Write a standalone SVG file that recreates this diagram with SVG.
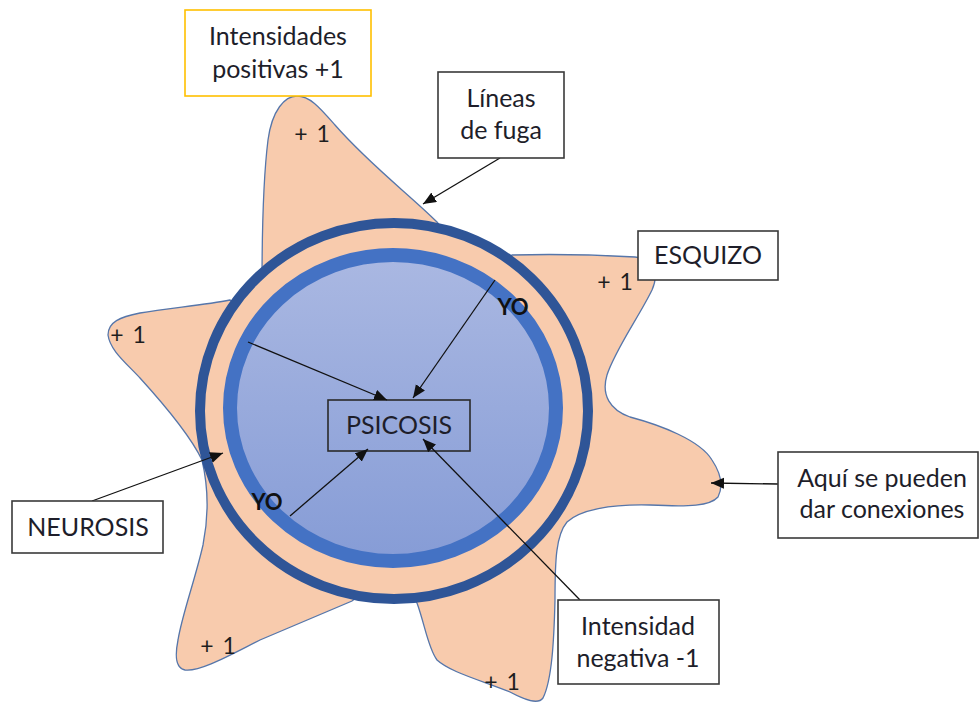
<svg xmlns="http://www.w3.org/2000/svg" width="979" height="706" viewBox="0 0 979 706">
<style>
.box{fill:#ffffff;stroke:#3a3a3a;stroke-width:1.6}
.t{font-family:Lato,"Open Sans",sans-serif;font-size:25px;fill:#1e1e2a;text-anchor:middle}
.p{font-family:Lato,"Open Sans",sans-serif;font-size:23px;fill:#1e1e1e;text-anchor:middle;word-spacing:3px}
.yo{font-family:Lato,"Liberation Sans",sans-serif;font-size:22px;font-weight:bold;fill:#111111;text-anchor:middle}
.c{stroke:#111111;stroke-width:1.3;fill:none;marker-end:url(#ah)}
</style>
<defs>
<marker id="ah" markerUnits="userSpaceOnUse" markerWidth="14" markerHeight="12" refX="13" refY="5.5" orient="auto">
<path d="M0,0 L13,5.5 L0,11 Z" fill="#111111"/>
</marker>
<linearGradient id="g" x1="0" y1="0" x2="0" y2="1">
<stop offset="0" stop-color="#AAB8E2"/>
<stop offset="1" stop-color="#869CD6"/>
</linearGradient>
</defs>
<g id="star">
<path d="M 262 285 C 262 240, 263 180, 268 140 C 272 110, 285 96, 297 96 C 310 96, 320 108, 335 125 C 370 165, 410 195, 437 222 L 455 245 L 505 262 L 512 255 C 550 254, 600 255, 635 257 C 652 258, 660 272, 652 290 C 640 315, 615 350, 607 375 C 601 395, 610 410, 630 417 C 660 425, 700 440, 712 460 C 720 472, 724 485, 718 497 C 710 506, 690 507, 650 505 C 610 504, 580 510, 567 522 C 556 535, 555 560, 555 600 C 554 640, 552 680, 543 698 C 538 705, 525 700, 510 692 C 480 680, 450 672, 437 660 C 428 648, 425 625, 417 603 L 410 595 L 360 595 L 352 601 L 260 640 C 230 655, 200 672, 185 670 C 175 668, 175 655, 178 640 C 182 615, 195 580, 203 545 C 208 520, 209 490, 202 460 C 190 435, 160 400, 140 378 C 125 362, 110 350, 108 335 C 108 322, 120 317, 140 313 C 170 308, 205 305, 230 300 L 240 308 Z" fill="#F8CBAD" stroke="#5676AA" stroke-width="1.3"/>
</g>
<g id="outer-ring">
<ellipse cx="394" cy="411" rx="194" ry="188" fill="#F8CBAD" stroke="#2F5597" stroke-width="10"/>
</g>
<g id="yo-circle">
<ellipse cx="393" cy="408" rx="163" ry="153" fill="url(#g)" stroke="#4472C4" stroke-width="14"/>
</g>
<g id="psicosis">
<rect x="328" y="400" width="142" height="51" fill="none" stroke="#2a2a2a" stroke-width="1.6"/>
<text class="t" x="399" y="434">PSICOSIS</text>
</g>
<g id="connectors">
<line class="c" x1="500" y1="158" x2="423" y2="204"/>
<line class="c" x1="778" y1="484" x2="711" y2="483"/>
<line class="c" x1="580" y1="600" x2="423" y2="439"/>
<line class="c" x1="92" y1="501" x2="223" y2="453"/>
<line class="c" x1="248" y1="342" x2="387" y2="400"/>
<line class="c" x1="495" y1="280" x2="413" y2="398"/>
<line class="c" x1="290" y1="516" x2="368" y2="449"/>
</g>
<g id="intensidades-positivas">
<rect x="185" y="10" width="186" height="86" fill="#ffffff" stroke="#FFC000" stroke-width="1.6"/>
<text class="t" x="278" y="45">Intensidades</text>
<text class="t" x="278" y="78">positivas +1</text>
</g>
<g id="lineas-de-fuga">
<rect class="box" x="438" y="72" width="126" height="86"/>
<text class="t" x="501" y="107">Líneas</text>
<text class="t" x="501" y="139">de fuga</text>
</g>
<g id="esquizo">
<rect class="box" x="638" y="231" width="140" height="49"/>
<text class="t" x="708" y="264">ESQUIZO</text>
</g>
<g id="aqui">
<rect class="box" x="778" y="452" width="200" height="86"/>
<text class="t" x="882" y="487">Aquí se pueden</text>
<text class="t" x="882" y="518">dar conexiones</text>
</g>
<g id="intensidad-negativa">
<rect class="box" x="558" y="600" width="161" height="84"/>
<text class="t" x="638" y="635">Intensidad</text>
<text class="t" x="638" y="667">negativa -1</text>
</g>
<g id="neurosis">
<rect class="box" x="12" y="501" width="151" height="52"/>
<text class="t" x="88" y="536">NEUROSIS</text>
</g>
<g id="labels">
<text class="yo" x="513" y="315">YO</text>
<text class="yo" x="267" y="510">YO</text>
<text class="p" x="312" y="142">+ 1</text>
<text class="p" x="615" y="290">+ 1</text>
<text class="p" x="128" y="343">+ 1</text>
<text class="p" x="218" y="654">+ 1</text>
<text class="p" x="502" y="690">+ 1</text>
</g>
</svg>
